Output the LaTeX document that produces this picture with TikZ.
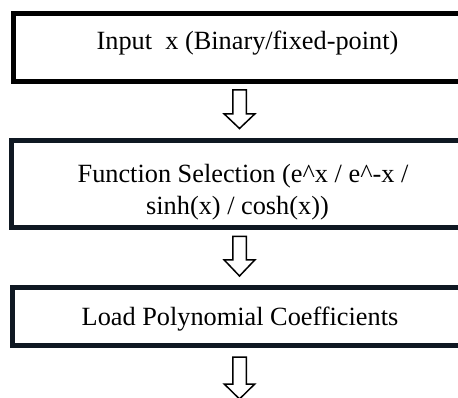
\documentclass[tikz,border=0pt]{standalone}
\usepackage{fontspec}
\setmainfont{Liberation Serif}
\usetikzlibrary{calc}
\definecolor{navy}{HTML}{0F1822}
\newcommand{\blockarrowdown}[3]{%
  \draw[hollow] ($(#1)+(-6.75,0)$) -- ++(0,#2) -- ++(-8.5,0) -- ++(15.25,#3)
    -- ++(15.25,-#3) -- ++(-8.5,0) -- ++(0,-#2) -- cycle;}
\begin{document}
\begin{tikzpicture}[x=1pt,y=-1pt,
  frame/.style={draw, line width=5pt, rectangle, inner sep=0pt, outer sep=0pt},
  lbl/.style={font=\fontsize{26.3}{32}\selectfont, inner sep=0pt, anchor=base},
  hollow/.style={draw=black, line width=1.5pt, fill=white, line join=miter}]
\useasboundingbox (0,0) rectangle (458,398);
\clip (0,0) rectangle (458,398);
\fill[white] (0,0) rectangle (458,398);
% boxes
\node[frame, draw=black, minimum width=459pt, minimum height=68pt] (b1) at (243.25,47.5) {};
\node[frame, draw=navy, minimum width=461pt, minimum height=87pt] (b2) at (242,184) {};
\node[frame, draw=navy, minimum width=460.5pt, minimum height=58pt] (b3) at (242.25,316.5) {};
% labels
\node[lbl] (t1) at (247.5,50) {Input\ \ x (Binary/fixed-point)};
\node[lbl] (t2a) at (243,183) {Function Selection (e\^{}x / e\^{}-x /};
\node[lbl] (t2b) at (237.5,215) {sinh(x) / cosh(x))};
\node[lbl] (t3) at (240,325) {Load Polynomial Coefficients};
% arrows
\coordinate (a1) at (239.5,90);
\coordinate (a2) at (239.5,236.5);
\coordinate (a3) at (239.5,357);
\blockarrowdown{a1}{24}{14.5}
\blockarrowdown{a2}{23.5}{16}
\blockarrowdown{a3}{27}{15}
\end{tikzpicture}
\end{document}
